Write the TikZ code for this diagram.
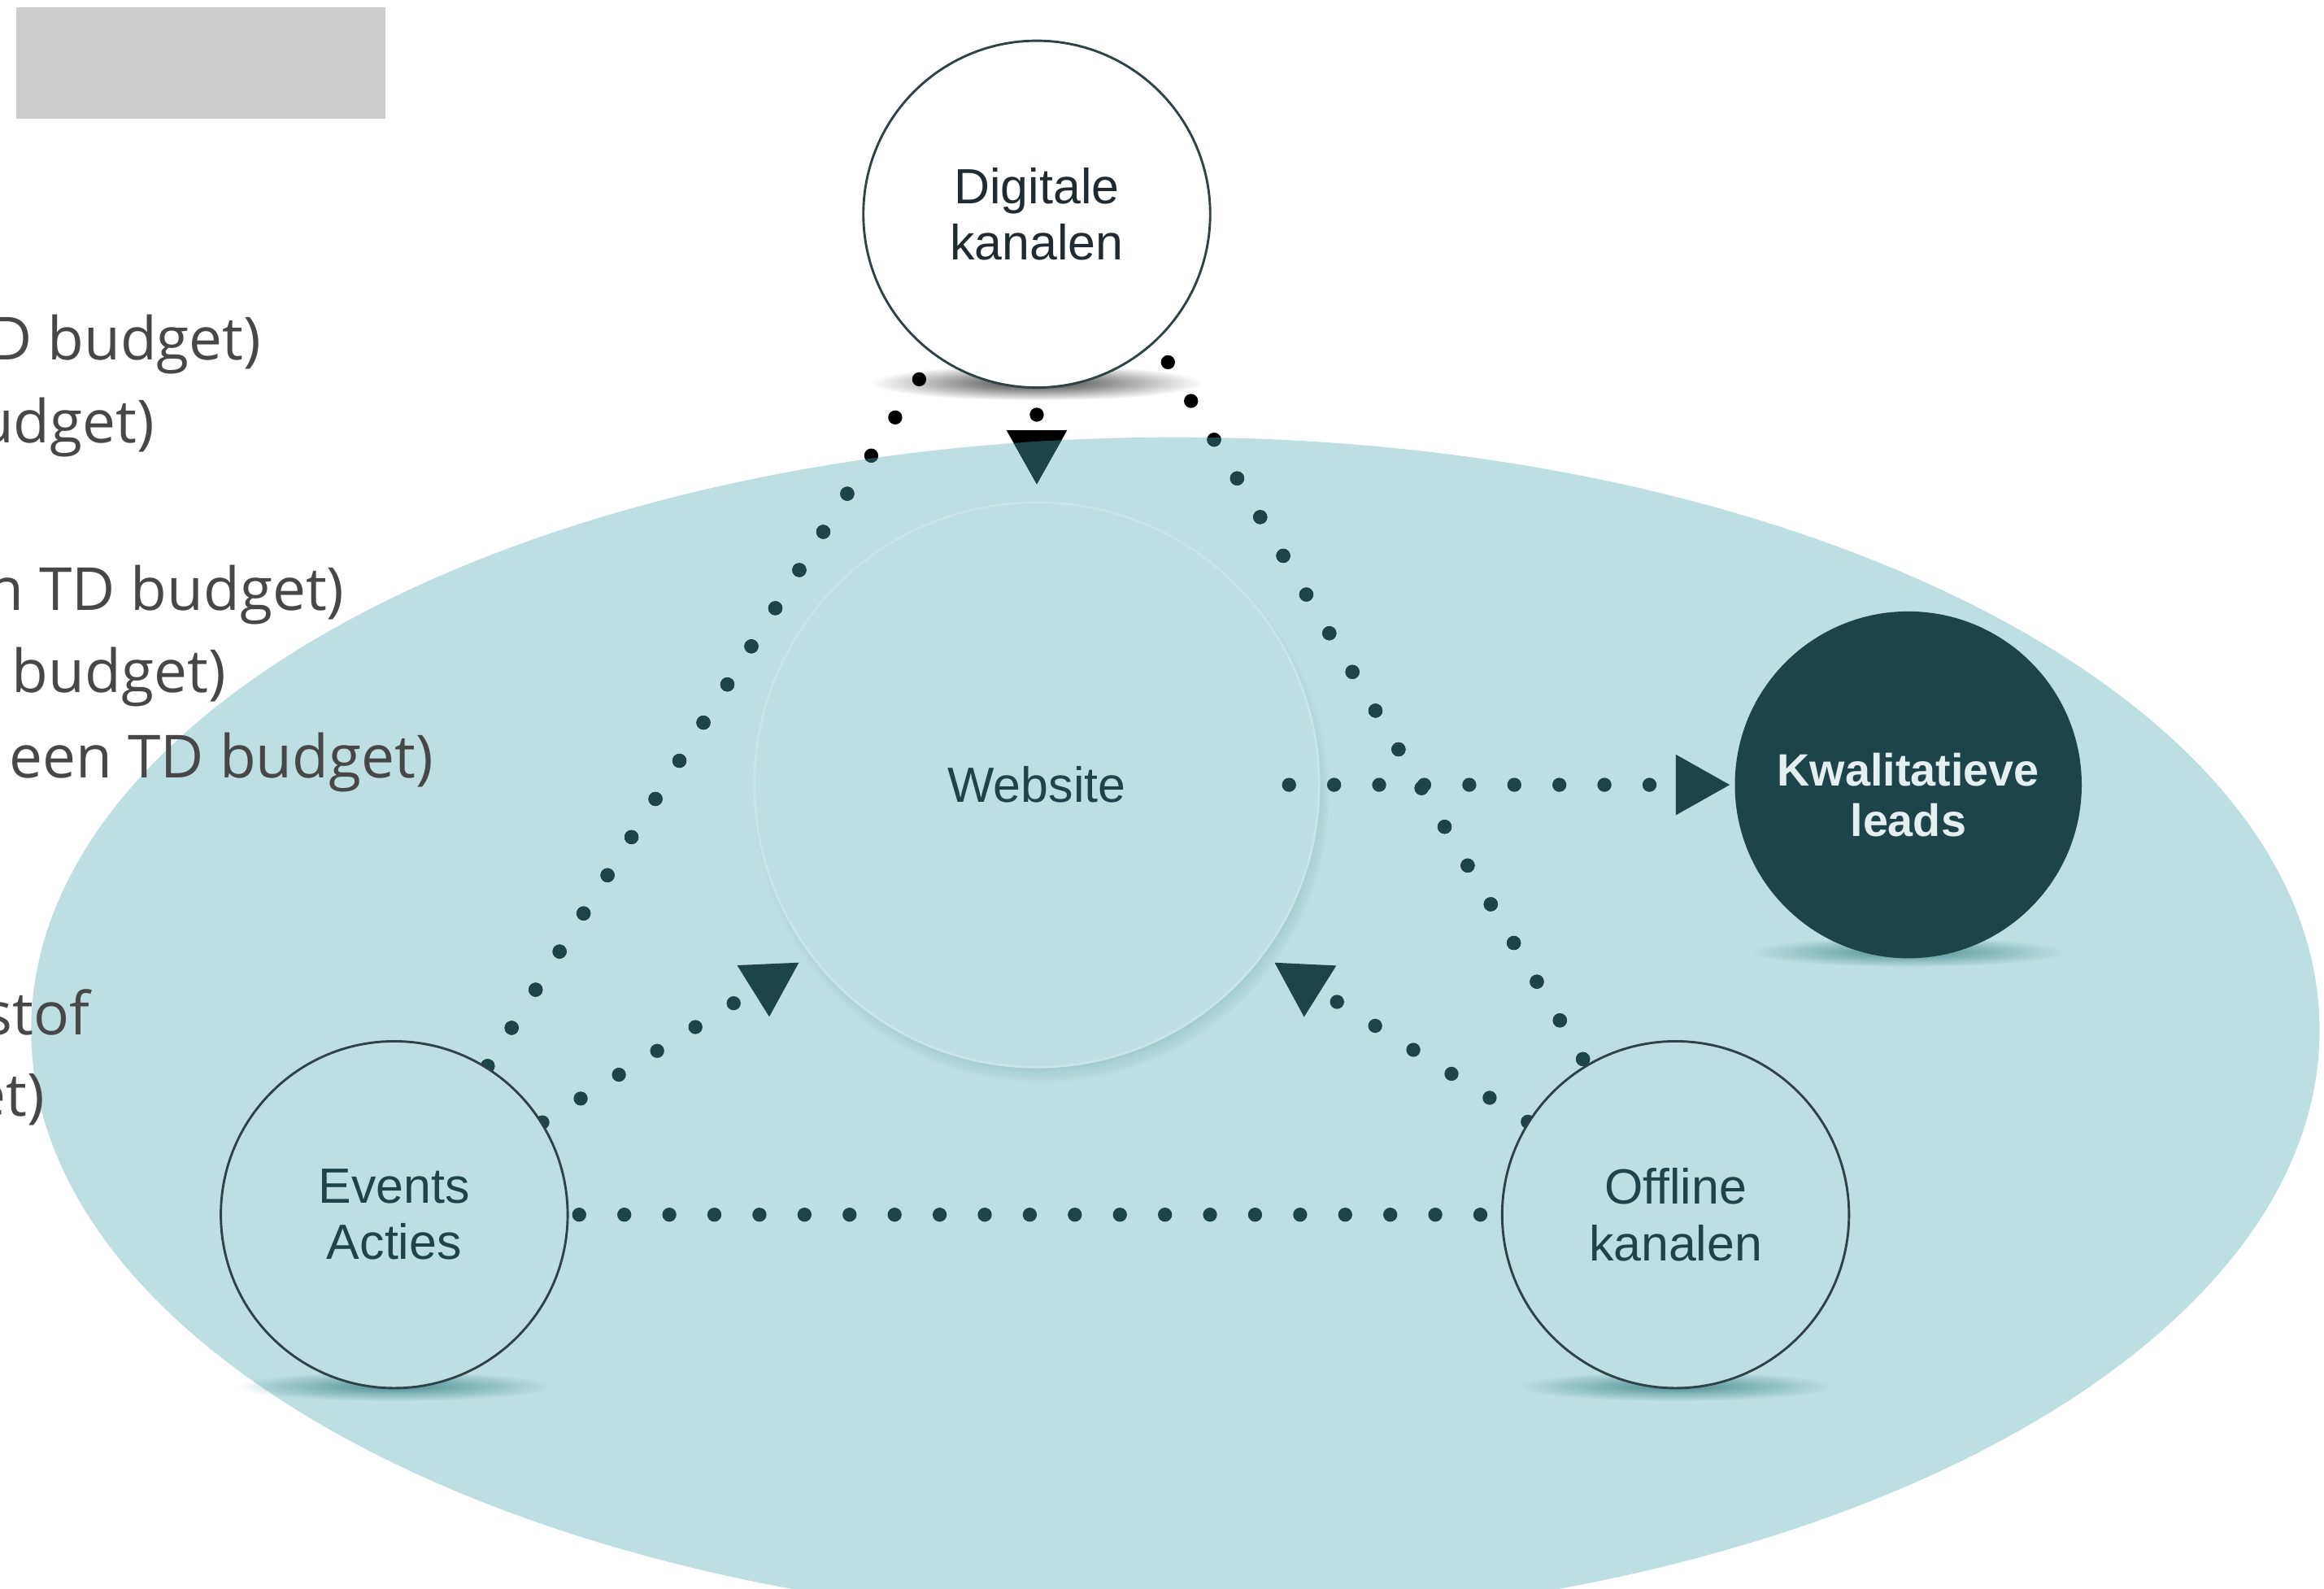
\documentclass[tikz,border=0pt]{standalone}
\usepackage{fontspec}
\usepackage{xcolor}
\usetikzlibrary{arrows.meta,positioning,shadows,fadings}
\newfontfamily\circfont{Liberation Sans}
\newfontfamily\notefont{Open Sans}
\definecolor{blobteal}{HTML}{BDDFE1}
\definecolor{darkteal}{HTML}{1C4449}
\definecolor{shadeteal}{HTML}{4F9094}
\definecolor{webshade}{HTML}{7AADB0}
\definecolor{webrim}{HTML}{CAE5E6}
\definecolor{notegray}{HTML}{474747}
\definecolor{rimgray}{HTML}{2F4246}
\definecolor{boxgray}{HTML}{CCCCCC}
\definecolor{leadwhite}{HTML}{E4EFEF}
\definecolor{diginavy}{HTML}{1F2B31}
\tikzfading[name=softedge, inner color=transparent!0, outer color=transparent!100]
\pgfdeclarelayer{back}
\pgfdeclarelayer{mid}
\pgfsetlayers{back,mid,main}
\tikzset{%
	bubble/.style    = {circle, draw=rimgray, line width=0.45pt, fill=blobteal, minimum size=2.34cm, inner sep=0pt, align=center, text=darkteal, font=\circfont\fontsize{9.5}{10.8}\selectfont},
	webbubble/.style = {bubble, minimum size=3.81cm, draw=webrim, line width=0.4pt, circular drop shadow={shadow xshift=0.03cm, shadow yshift=-0.065cm, shadow scale=1.02, opacity=1, fill=webshade}},
	leadbubble/.style= {bubble, draw=none, fill=darkteal, text=leadwhite, font=\circfont\bfseries\fontsize{8.7}{9.7}\selectfont},
	note/.style      = {anchor=base east, inner sep=0pt, text=notegray, font=\notefont\fontsize{11.4}{13}\selectfont},
	dotline/.style   = {darkteal, line width=0.095cm, line cap=round, dash pattern=on 0pt off 0.304cm},
	tri/.style       = {-{Triangle[length=0.37cm,width=0.38cm]}},
	floor/.style     = {shadeteal, path fading=softedge}, % shadow under a circle
}

\begin{document}
\begin{tikzpicture}
	\useasboundingbox (0,0) rectangle (15.68,-10.72);

	\begin{pgfonlayer}{back}
		\fill[boxgray] (0.11,-0.05) rectangle (2.60,-0.80);
		\fill[blobteal] (7.93,-6.95) ellipse (7.72cm and 4cm);
		\node [webbubble] (web) at (6.995,-5.295) {Website};
	\end{pgfonlayer}

	\node [bubble, fill=white, text=diginavy] (dig) [above of=web, node distance=3.85cm] {Digitale\\kanalen};
	\node [leadbubble] (kw) [right of=web, node distance=5.88cm] {\rule{0pt}{0.36cm}Kwalitatieve\\leads};
	\node [bubble] (ev) at (2.66,-8.195) {Events\\Acties};
	\node [bubble] (off) [right of=ev, node distance=8.645cm] {Offline\\kanalen};

	\begin{pgfonlayer}{back}
		\fill[floor, black!75] ([yshift=0.04cm]dig.south) ellipse (1.12cm and 0.12cm);
		\fill[floor] ([yshift=0.05cm]kw.south) ellipse (1.06cm and 0.1cm);
		\fill[floor] ([yshift=0.02cm]ev.south) ellipse (1.06cm and 0.1cm);
		\fill[floor] ([yshift=0.02cm]off.south) ellipse (1.06cm and 0.1cm);

		\node [note] (n1) at (1.77,-2.43) {D budget)};
		\node [note] (n2) at (1.05,-2.99) {udget)};
		\node [note] (n3) at (2.33,-4.12) {n TD budget)};
		\node [note] (n4) at (1.53,-4.67) {budget)};
		\node [note] (n5) at (2.93,-5.25) {een TD budget)};
		\node [note] (n6) at (0.61,-6.98) {stof};
		\node [note] (n7) at (0.31,-7.53) {et)};
	\end{pgfonlayer}

	\begin{pgfonlayer}{mid}
		% black outside the blob, teal inside
		\draw[dotline, tri, black, shorten <=0.175cm, shorten >=0.11cm] (dig.south) -- (web.north);
		\draw[dotline, black, shorten <=0.19cm] (dig.-126) -- (ev);
		\draw[dotline, black, shorten <=0.16cm] (dig.-47) -- (off);
		\begin{scope}
			\clip (7.93,-6.95) ellipse (7.72cm and 4cm);
			\draw[dotline, tri, shorten <=0.175cm, shorten >=0.11cm] (dig.south) -- (web.north);
			\draw[dotline, shorten <=0.19cm] (dig.-126) -- (ev);
			\draw[dotline, shorten <=0.16cm] (dig.-47) -- (off);
		\end{scope}

		\draw[dotline, tri, shorten >=0.02cm] ([xshift=-0.21cm]web.east) -- (kw);
		\draw[dotline, tri, shorten >=0.085cm] (ev) -- (web.-143);
		\draw[dotline, tri, shorten >=0.085cm] (off) -- (web.-37);
		\draw[dotline, shorten <=0.07cm, shorten >=0.13cm] (ev) -- (off);
	\end{pgfonlayer}
\end{tikzpicture}
\end{document}
